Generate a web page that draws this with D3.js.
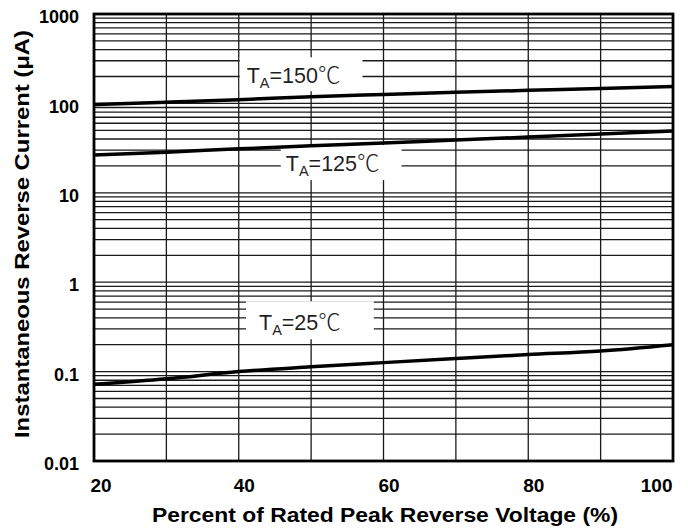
<!DOCTYPE html>
<html>
<head>
<meta charset="utf-8">
<script src="https://cdn.jsdelivr.net/npm/d3@7"></script>
<style>
  html, body { margin: 0; padding: 0; background: #fff; }
  svg { display: block; }
</style>
</head>
<body>
<svg id="chart" width="688" height="530"></svg>
<script>
// ---- data ----
const voltagePct = [20, 30, 40, 50, 60, 70, 80, 90, 100];
const current150 = [97, 103, 110, 119, 126, 133, 140, 147, 155];
const current125 = [26.5, 28.5, 31, 33.5, 36, 39, 42, 45.5, 49];
const current25  = [0.072, 0.083, 0.1, 0.113, 0.126, 0.14, 0.155, 0.17, 0.2];
const seriesNames = ["150", "125", "25"];
const xTicks = [20, 40, 60, 80, 100];
const yTicks = [1000, 100, 10, 1, 0.1, 0.01];
const yTickLabels = ["1000", "100", "10", "1", "0.1", "0.01"];
const xTitle = "Percent of Rated Peak Reverse Voltage (%)";
const yTitle = "Instantaneous Reverse Current (\u03bcA)";
// label anchors in data coordinates (x %, current)
const labelX = [41.1, 46.5, 42.8];
const labelY = [168, 17.5, 0.29];

// ---- layout ----
const svg = d3.select("#chart");
const L = 94, R = 673, T = 14, B = 461;
const x = d3.scaleLinear().domain([20, 100]).range([L, R]);
const y = d3.scaleLog().domain([0.01, 1000]).range([B, T]);
const font = "'Liberation Sans', Arial, Helvetica, sans-serif";

// grid: vertical
const g = svg.append("g");
const vTicks = d3.range(30, 100, 10);
g.selectAll("line.v").data(vTicks).join("line")
  .attr("x1", d => x(d)).attr("x2", d => x(d))
  .attr("y1", T).attr("y2", B)
  .attr("stroke", "#1a1a1a").attr("stroke-width", 1.3);

// grid: horizontal (major + minor)
const hTicks = [];
for (let e = -2; e < 3; e++) {
  for (let m = 1; m <= 9; m++) {
    const v = m * Math.pow(10, e);
    if (v > 0.01 && v < 1000) hTicks.push(v);
  }
}
g.selectAll("line.h").data(hTicks).join("line")
  .attr("x1", L).attr("x2", R)
  .attr("y1", d => y(d)).attr("y2", d => y(d))
  .attr("stroke", "#1a1a1a").attr("stroke-width", 1.3);

// label boxes (white) covering grid
const boxes = svg.append("g");
const texts = svg.append("g");
const pad = [[7, 26, 22, 8], [5, 26, 22, 9], [13, 29, 33, 9]]; // left, top, right, bottom
seriesNames.forEach((name, i) => {
  const tx = x(labelX[i]), ty = y(labelY[i]);
  const t = texts.append("text")
    .attr("x", tx).attr("y", ty)
    .attr("font-family", font).attr("font-size", 21.5)
    .attr("fill", "#1f1f24");
  t.append("tspan").text("T");
  t.append("tspan").attr("font-size", 14.5).attr("dy", 5).text("A");
  t.append("tspan").attr("dy", -5).text("=" + name);
  t.append("tspan").attr("font-family", "'Noto Sans CJK SC', 'DejaVu Sans', sans-serif").attr("font-size", 22.5).attr("font-weight", 300).text("\u2103");
  const bb = t.node().getBBox();
  boxes.append("rect")
    .attr("x", tx - pad[i][0]).attr("y", ty - pad[i][1])
    .attr("width", bb.width + pad[i][0] + pad[i][2])
    .attr("height", pad[i][1] + pad[i][3])
    .attr("fill", "#fff");
});

// curves
const line = d3.line().x((d, i) => x(voltagePct[i])).y(d => y(d)).curve(d3.curveMonotoneX);
[current150, current125, current25].forEach(s => {
  svg.append("path").datum(s).attr("d", line)
    .attr("fill", "none").attr("stroke", "#000").attr("stroke-width", 3.5)
    .attr("stroke-linecap", "butt");
});
svg.node().appendChild(texts.node());

// frame
svg.append("rect").attr("x", L).attr("y", T).attr("width", R - L).attr("height", B - T)
  .attr("fill", "none").attr("stroke", "#000").attr("stroke-width", 2.8);

// y axis
const yAxis = d3.axisLeft(y).tickValues(yTicks).tickSize(0)
  .tickFormat((d, i) => yTickLabels[i]);
const ya = svg.append("g").attr("transform", `translate(${L - 12},0)`).call(yAxis);
ya.select(".domain").remove();
ya.selectAll("text").attr("font-family", font).attr("font-size", 18).attr("font-weight", "bold")
  .attr("fill", "#000").attr("dy", "0.48em");

// x axis
const xAxis = d3.axisBottom(x).tickValues(xTicks).tickSize(0).tickFormat(d3.format("d"));
const xa = svg.append("g").attr("transform", `translate(0,${B})`).call(xAxis);
xa.select(".domain").remove();
xa.selectAll("text").attr("font-family", font).attr("font-size", 19).attr("font-weight", "bold")
  .attr("fill", "#000").attr("y", 31).attr("dy", 0)
  .attr("text-anchor", d => d === 20 ? "start" : d === 100 ? "end" : "middle")
  .attr("dx", d => d === 20 ? -4 : d === 100 ? -1 : 5);

// axis titles
svg.append("text").attr("x", 385).attr("y", 522).attr("text-anchor", "middle")
  .attr("font-family", font).attr("font-size", 20.5).attr("font-weight", "bold").attr("fill", "#000")
  .attr("textLength", 466).attr("lengthAdjust", "spacingAndGlyphs")
  .text(xTitle);
svg.append("text").attr("transform", "translate(29,234) rotate(-90)").attr("text-anchor", "middle")
  .attr("font-family", font).attr("font-size", 20).attr("font-weight", "bold").attr("fill", "#000")
  .attr("textLength", 408).attr("lengthAdjust", "spacingAndGlyphs")
  .text(yTitle);
</script>
</body>
</html>
